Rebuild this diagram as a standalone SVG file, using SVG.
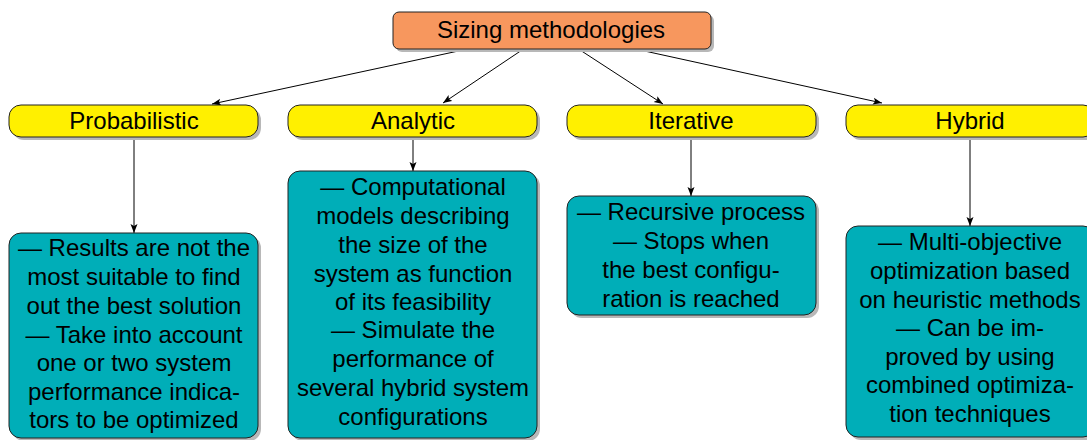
<svg xmlns="http://www.w3.org/2000/svg" width="1087" height="440" viewBox="0 0 1087 440">
<style>
text{font-family:"Liberation Sans",Arial,Helvetica,sans-serif;fill:#000;text-anchor:middle}
.t{font-size:24px}
.r{font-size:24px}
.shadow{fill:#b8b8b8}
.root{fill:#F7975E;stroke:#222;stroke-width:1}
.lab{fill:#FFF000;stroke:#222;stroke-width:1}
.body{fill:#00AEB8;stroke:#222;stroke-width:1}
.con{stroke:#000;stroke-width:1;fill:none;marker-end:url(#arr)}
</style>
<defs>
<marker id="arr" markerUnits="userSpaceOnUse" markerWidth="10" markerHeight="8" refX="9" refY="4" orient="auto">
<path d="M0,0.5 L9,4 L0,7.5 L2,4 Z" fill="#000"/>
</marker>
</defs>
<g id="connectors">
<line class="con" x1="463" y1="50" x2="212" y2="104"/>
<line class="con" x1="522" y1="50" x2="443" y2="103"/>
<line class="con" x1="580" y1="50" x2="663" y2="104"/>
<line class="con" x1="640" y1="50" x2="882" y2="103"/>
<line class="con" x1="134" y1="138" x2="134" y2="233"/>
<line class="con" x1="413" y1="138" x2="413" y2="171"/>
<line class="con" x1="691" y1="138" x2="691" y2="196"/>
<line class="con" x1="970" y1="138" x2="970" y2="226"/>
</g>
<g id="root">
<rect class="shadow" x="396" y="15" width="318" height="37" rx="6"/>
<rect class="root" x="393" y="12" width="318" height="37" rx="6"/>
<text class="r" x="551" y="38">Sizing methodologies</text>
</g>
<g id="probabilistic">
<rect class="shadow" x="12" y="108" width="249" height="32" rx="12"/>
<rect class="lab" x="9" y="105" width="249" height="32" rx="12"/>
<text class="t" x="134" y="129">Probabilistic</text>
</g>
<g id="analytic">
<rect class="shadow" x="291" y="108" width="249" height="32" rx="12"/>
<rect class="lab" x="288" y="105" width="249" height="32" rx="12"/>
<text class="t" x="413" y="129">Analytic</text>
</g>
<g id="iterative">
<rect class="shadow" x="570" y="108" width="249" height="32" rx="12"/>
<rect class="lab" x="567" y="105" width="249" height="32" rx="12"/>
<text class="t" x="691" y="129">Iterative</text>
</g>
<g id="hybrid">
<rect class="shadow" x="849" y="108" width="249" height="32" rx="12"/>
<rect class="lab" x="846" y="105" width="249" height="32" rx="12"/>
<text class="t" x="970" y="129">Hybrid</text>
</g>
<g id="probabilistic-desc">
<rect class="shadow" x="12" y="236" width="249" height="205" rx="12"/>
<rect class="body" x="9" y="233" width="249" height="205" rx="12"/>
<text class="t" x="134" y="256">— Results are not the</text>
<text class="t" x="134" y="285">most suitable to find</text>
<text class="t" x="134" y="314">out the best solution</text>
<text class="t" x="134" y="343">— Take into account</text>
<text class="t" x="134" y="371">one or two system</text>
<text class="t" x="134" y="400">performance indica-</text>
<text class="t" x="134" y="428">tors to be optimized</text>
</g>
<g id="analytic-desc">
<rect class="shadow" x="291" y="174" width="249" height="267" rx="12"/>
<rect class="body" x="288" y="171" width="249" height="267" rx="12"/>
<text class="t" x="413" y="195">— Computational</text>
<text class="t" x="413" y="224">models describing</text>
<text class="t" x="413" y="253">the size of the</text>
<text class="t" x="413" y="282">system as function</text>
<text class="t" x="413" y="310">of its feasibility</text>
<text class="t" x="413" y="338">— Simulate the</text>
<text class="t" x="413" y="367">performance of</text>
<text class="t" x="413" y="396">several hybrid system</text>
<text class="t" x="413" y="425">configurations</text>
</g>
<g id="iterative-desc">
<rect class="shadow" x="570" y="199" width="249" height="119" rx="12"/>
<rect class="body" x="567" y="196" width="249" height="119" rx="12"/>
<text class="t" x="691" y="220">— Recursive process</text>
<text class="t" x="691" y="249">— Stops when</text>
<text class="t" x="691" y="278">the best configu-</text>
<text class="t" x="691" y="307">ration is reached</text>
</g>
<g id="hybrid-desc">
<rect class="shadow" x="849" y="229" width="249" height="211" rx="12"/>
<rect class="body" x="846" y="226" width="249" height="211" rx="12"/>
<text class="t" x="970" y="250">— Multi-objective</text>
<text class="t" x="970" y="279">optimization based</text>
<text class="t" x="970" y="308">on heuristic methods</text>
<text class="t" x="970" y="336">— Can be im-</text>
<text class="t" x="970" y="365">proved by using</text>
<text class="t" x="970" y="393">combined optimiza-</text>
<text class="t" x="970" y="422">tion techniques</text>
</g>
</svg>
